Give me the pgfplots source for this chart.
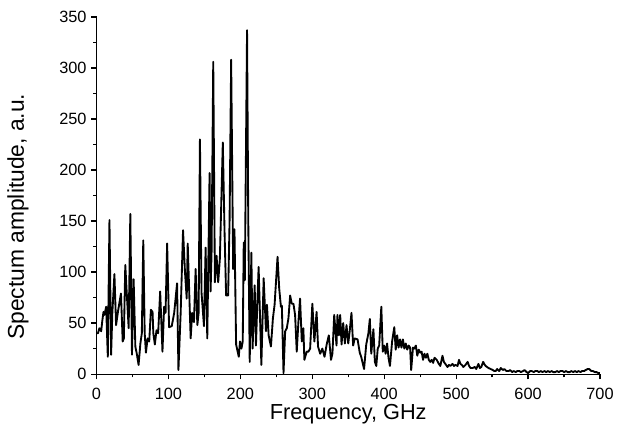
\documentclass[border=0pt]{standalone}
\usepackage{pgfplots}
\pgfplotsset{compat=1.18}
\usepackage{fontspec}
\setmainfont{Liberation Sans}
\begin{document}
\begin{tikzpicture}
\begin{axis}[
  name=ax,
  width=379.5pt, height=269.25pt,
  scale only axis,
  xmin=0, xmax=700, ymin=0, ymax=350,
  axis x line*=bottom, axis y line*=left,
  axis line style={line width=0.9pt},
  tick align=outside,
  major tick length=4pt, minor tick length=2.4pt,
  every tick/.style={black, line width=0.9pt},
  xtick={0,100,...,700}, ytick={0,50,...,350},
  minor x tick num=1, minor y tick num=1,
  /pgf/number format/assume math mode=true,
  ticklabel style={font=\fontsize{12.3}{14}\selectfont},
  xticklabel style={yshift=-3.2pt},
  label style={font=\fontsize{16.4}{19}\selectfont},
  xlabel={Frequency, GHz},
  ylabel={Spectum amplitude, a.u.},
  xlabel style={at={(axis description cs:0.5,0)}, anchor=center, yshift=-30pt},
  ylabel style={at={(axis description cs:0,0.5)}, anchor=center, yshift=59.25pt, xshift=-16pt, font=\fontsize{17.2}{20}\selectfont},
  clip=false,
]
\addplot[black, line width=1.4pt, line join=round] coordinates {
(0,40) (2,40) (4,45) (6.5,42) (8,52) (9.7,61) (11,58) (13.4,66) (15.7,17) (18,151)
(20.3,19) (22,60) (24.9,98) (27.2,48) (30,62) (34,79) (36.4,32) (38,35) (40,107) (42,80)
(44.7,45) (47,157) (49.3,19) (51.6,93) (54,27) (56,20) (58.5,9) (61,30) (63,40) (65,131)
(67,40) (68.7,21) (71,35) (73.3,32) (75.6,63) (77.9,61) (79,40) (81.1,29) (83.4,43) (85.7,40)
(88.5,81) (91.7,22) (94,66) (96,60) (98.2,128) (100.9,46) (104.6,47) (108,60) (112,89) (113.9,4)
(117,60) (120.3,141) (123,100) (125.4,74) (126.8,128) (130.9,35) (133,60) (135.5,51) (137.8,103) (140.2,48)
(142,60) (143.8,230) (146,80) (149.4,47) (151.7,124) (154,35) (157.2,197) (158.6,81) (160,120) (162.3,306)
(164.6,90) (166.9,116) (169.2,90) (171.5,113) (175.6,227) (178,140) (180.2,77) (183,77) (185,150) (187.2,308)
(190,103) (191.8,142) (194.1,29) (197.8,17) (199.5,32) (201.5,25) (203.3,32) (204.7,129) (206.2,92) (209.3,337)
(211,150) (213,12) (215.3,119) (217,25) (219.9,87) (221.7,28) (223.5,68) (225.4,105) (229.2,9) (232.4,94)
(235.6,42) (237,68) (239.3,38) (242.5,27) (245.3,55) (247.6,68) (251.7,115) (254,84) (256.4,66) (257.7,67)
(260,1) (262.3,42) (264.6,45) (266.9,55) (269.2,77) (271.5,69) (273.8,69) (276.1,58) (278.4,22) (280.7,51)
(283,74) (285.4,32) (287.6,45) (289,14) (292.3,22) (294.6,22) (297,25) (300.1,69) (302.9,32) (306,61)
(308,27) (311,20) (314,25) (317,17) (320,29) (323,38) (326,14) (328,20) (330.5,58) (333.7,28)
(335,58) (337,38) (338.8,58) (340.7,29) (343,50) (345.3,30) (347.6,48) (350,30) (352,42) (354.5,60)
(356.8,28) (359,35) (363,34) (366,21) (368,17) (372,5) (375,29) (378,40) (380,54) (382,20)
(385,44) (387,12) (389,8) (391,25) (393,28) (396,66) (398,22) (400,28) (402,20) (404,30)
(406,16) (408,8) (411,32) (414,46) (416,24) (418,38) (420,26) (422,34) (424,26) (426,34)
(428,25) (430,30) (432,24) (434,28) (436,26) (437.5,4) (440,26) (442,25) (444,28) (446,18)
(448,24) (450,21) (452,22) (454,14) (456,20) (458,16) (460,20) (462,14) (464,12) (466,14)
(468,11) (470,16) (473,14) (476,10) (478,8) (481,18) (483,12) (485,10) (488,7) (490,9)
(492,8) (495,10) (497,8) (499,9) (502,8) (504,14) (506,10) (508,9) (510,7) (513,9)
(516,12) (518,8) (520,6) (523,6) (526,7) (528,5) (531,10) (533,6) (535,7) (537.6,12)
(539,10) (541,8) (543,7) (545,6) (548,5) (551,4) (553,3) (555,3) (557,5) (560,3)
(562,6) (565,4) (567,5) (570,3) (573,3) (575,4) (578,2) (580,3) (583,2) (585,3)
(588,3) (590,2) (593,3) (595,4) (598,2) (600,1) (603,3) (605,3) (608,2) (610,3)
(613,3) (615,2) (618,3) (620,2) (623,3) (625,2) (628,3) (630,2) (633,3) (635,2)
(638,2) (640,3) (643,2) (645,3) (648,3) (650,2) (653,3) (655,2) (658,2) (660,3)
(663,2) (665,3) (668,2) (670,3) (673,2) (675,3) (678,3) (680,4) (683,5) (685,5)
(688,3) (690,3) (693,2) (695,2) (698,1) (700,1)
};
\end{axis}
\path ([xshift=-72.75pt,yshift=-49.5pt]ax.south west) rectangle ([xshift=11.25pt,yshift=12.75pt]ax.north east);
\end{tikzpicture}
\end{document}
